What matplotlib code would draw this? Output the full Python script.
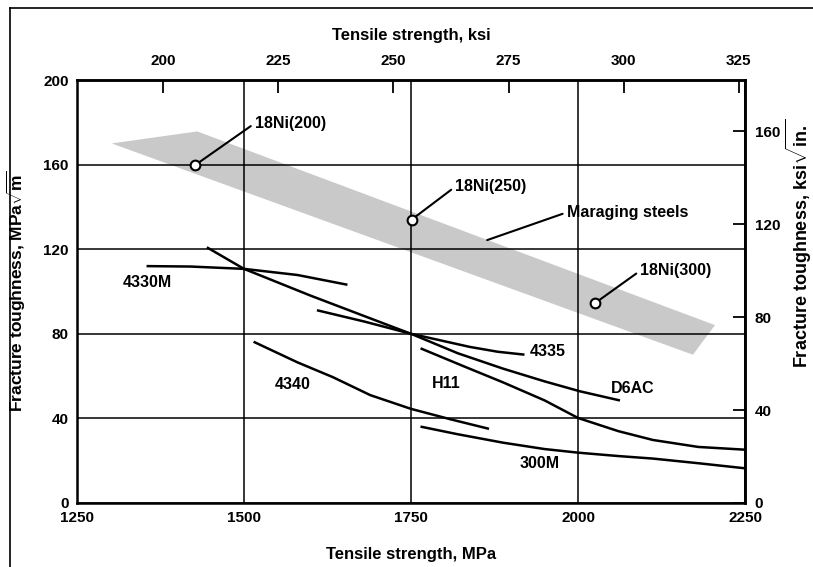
import numpy as np
import matplotlib.pyplot as plt
from matplotlib.lines import Line2D

plt.rcParams['font.family'] = 'Liberation Sans'
plt.rcParams['font.weight'] = 'bold'
plt.rcParams['axes.labelweight'] = 'bold'
plt.rcParams['font.size'] = 11.5
plt.rcParams['mathtext.fontset'] = 'custom'
plt.rcParams['mathtext.rm'] = 'Liberation Sans:bold'
plt.rcParams['mathtext.it'] = 'Liberation Sans:bold'
plt.rcParams['mathtext.bf'] = 'Liberation Sans:bold'

# maraging steel band (MPa, MPa*sqrt(m))
band_x = [1302, 1430, 2205, 2172]
band_y = [170, 175.7, 84.1, 70.1]

# 18Ni grades
ni_names = ['18Ni(200)', '18Ni(250)', '18Ni(300)']
ni_x = [1427, 1751, 2025]
ni_y = [159.8, 134, 94.4]

# alloy curves
x_4330M = [1356, 1420, 1500, 1580, 1653]
y_4330M = [112, 111.8, 110.7, 107.8, 103.3]

x_d6ac = [1446, 1500, 1600, 1704, 1750, 1820, 1888, 1950, 2003, 2061]
y_d6ac = [120.6, 110.7, 98, 85.5, 80, 70.8, 63.5, 57.5, 52.8, 48.6]

x_4335 = [1611, 1680, 1750, 1838, 1880, 1918]
y_4335 = [91, 85.8, 80, 73.8, 71.5, 70.2]

x_h11 = [1766, 1830, 1888, 1950, 2000, 2060, 2112, 2180, 2250]
y_h11 = [72.9, 64.5, 57, 48.5, 40.2, 34, 29.8, 26.5, 25.2]

x_300m = [1766, 1820, 1888, 1950, 2000, 2060, 2112, 2180, 2250]
y_300m = [36, 32.5, 28.5, 25.5, 23.8, 22.2, 21, 18.8, 16.4]

x_4340 = [1516, 1580, 1633, 1689, 1750, 1810, 1865]
y_4340 = [76, 66.5, 59.5, 51, 44.5, 39.5, 35.2]

mpa_ticks = [1250, 1500, 1750, 2000, 2250]
mpam_ticks = [0, 40, 80, 120, 160, 200]
ksi_ticks = [200, 225, 250, 275, 300, 325]
ksiin_ticks = [0, 40, 80, 120, 160]

fig = plt.figure(figsize=(8.13, 5.67), dpi=100)
ax = fig.add_axes([0.0947, 0.1129, 0.8217, 0.746])

ax.fill(band_x, band_y, color='#c9c9c9', lw=0, zorder=1)

lw = 1.8
for xs, ys in [(x_4330M, y_4330M), (x_d6ac, y_d6ac), (x_4335, y_4335),
               (x_h11, y_h11), (x_300m, y_300m), (x_4340, y_4340)]:
    ax.plot(xs, ys, color='black', lw=lw, zorder=3)

ax.plot(ni_x, ni_y, 'o', mfc='white', mec='black', ms=7, mew=1.5, zorder=5)

# leader labels
ni_text = [(1516, 179.5), (1816, 149.5), (2093, 109.8)]
for name, px, py, (tx, ty) in zip(ni_names, ni_x, ni_y, ni_text):
    ax.annotate(name, xy=(px, py), xytext=(tx, ty), ha='left', va='center',
                arrowprops=dict(arrowstyle='-', color='black', lw=1.5,
                                shrinkA=1, shrinkB=4, relpos=(0, 0.5)))
ax.annotate('Maraging steels', xy=(1864, 124.3), xytext=(1983, 137.4),
            ha='left', va='center',
            arrowprops=dict(arrowstyle='-', color='black', lw=1.5,
                            shrinkA=1, shrinkB=0, relpos=(0, 0.5)))

ax.text(1356, 104.2, '4330M', ha='center', va='center')
ax.text(1573, 56, '4340', ha='center', va='center')
ax.text(1955, 71.5, '4335', ha='center', va='center')
ax.text(1802, 56.5, 'H11', ha='center', va='center')
ax.text(2082, 54.2, 'D6AC', ha='center', va='center')
ax.text(1943, 18.7, '300M', ha='center', va='center')

ax.set_xlim(1250, 2250)
ax.set_ylim(0, 200)
ax.set_xticks(mpa_ticks)
ax.set_yticks(mpam_ticks)
ax.grid(True, color='black', lw=1.1)
ax.tick_params(length=0, pad=6, labelsize=11)
for s in ax.spines.values():
    s.set_linewidth(lw)

ax.set_xlabel('Tensile strength, MPa', fontsize=12)
ax.xaxis.set_label_coords(0.5, -0.104)
ax.set_ylabel(r'Fracture toughness, MPa$\sqrt{\mathrm{m}}$', fontsize=12.5)
ax.yaxis.set_label_coords(-0.073, 0.5)

top = ax.secondary_xaxis('top', functions=(lambda x: x / 6.895, lambda x: x * 6.895))
top.set_xticks(ksi_ticks)
top.tick_params(direction='in', length=9, width=1.3, pad=9, labelsize=11)
top.spines['top'].set_linewidth(lw)
ax.text(0.5, 1.106, 'Tensile strength, ksi', transform=ax.transAxes,
        ha='center', va='center', fontsize=12)

right = ax.secondary_yaxis('right', functions=(lambda y: y / 1.0988, lambda y: y * 1.0988))
right.set_yticks(ksiin_ticks)
right.tick_params(direction='in', length=9, width=1.3, pad=7, labelsize=11)
right.spines['right'].set_linewidth(lw)
ax.text(1.081, 0.615, r'Fracture toughness, ksi$\sqrt{\mathrm{in.}}$',
        transform=ax.transAxes, rotation=90, ha='center', va='center', fontsize=13)

# page frame
fig.add_artist(Line2D([10 / 813, 10 / 813], [0, 1 - 8 / 567], transform=fig.transFigure,
                      color='black', lw=1.2))
fig.add_artist(Line2D([10 / 813, 1], [1 - 8 / 567, 1 - 8 / 567], transform=fig.transFigure,
                      color='black', lw=1.2))

fig.savefig('out.png', dpi=100)
